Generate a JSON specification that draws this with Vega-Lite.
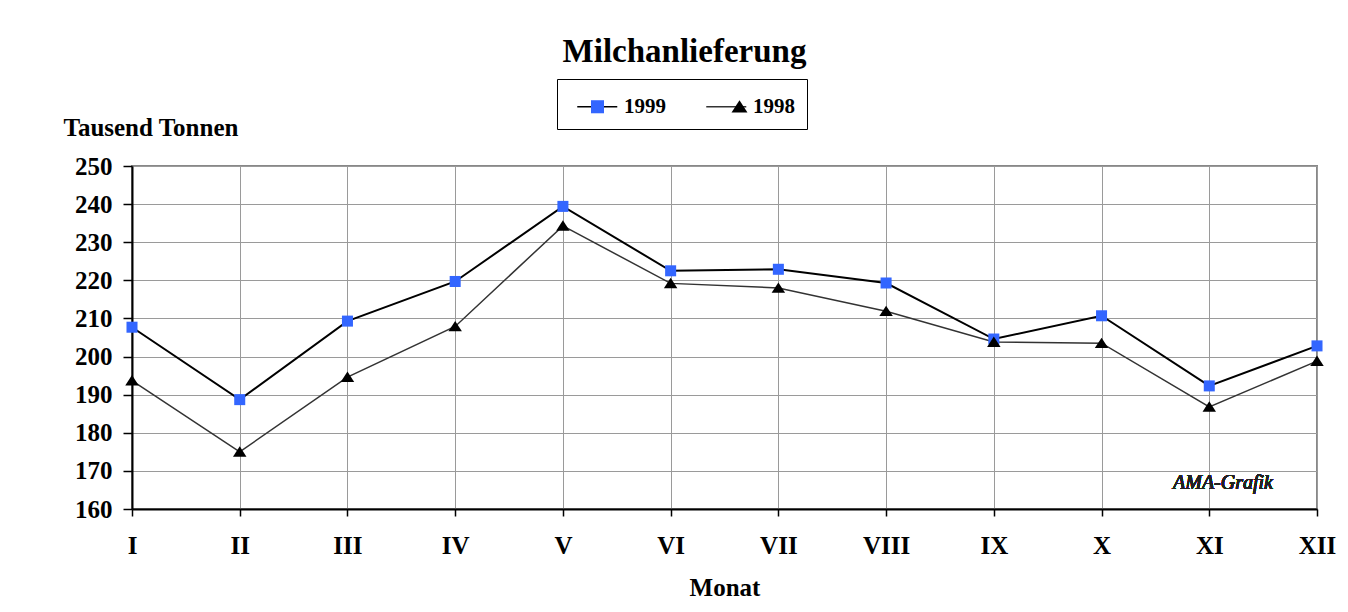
{
  "$schema": "https://vega.github.io/schema/vega-lite/v6.json",
  "width": 1185,
  "height": 343,
  "autosize": {"type": "none"},
  "padding": {"left": 132, "top": 166, "right": 31, "bottom": 103},
  "background": "white",
  "title": {
    "text": "Milchanlieferung",
    "font": "Liberation Serif",
    "fontSize": 33,
    "fontWeight": "bold",
    "color": "black",
    "anchor": "middle",
    "frame": "group",
    "dx": -40,
    "offset": -16,
    "baseline": "alphabetic"
  },
  "data": {
    "values": [
      {"Monat": "I", "Jahr": "1999", "Linie": "1999", "Wert": 207.7},
      {"Monat": "II", "Jahr": "1999", "Linie": "1999", "Wert": 188.7},
      {"Monat": "III", "Jahr": "1999", "Linie": "1999", "Wert": 209.3},
      {"Monat": "IV", "Jahr": "1999", "Linie": "1999", "Wert": 219.7},
      {"Monat": "V", "Jahr": "1999", "Linie": "1999", "Wert": 239.4},
      {"Monat": "VI", "Jahr": "1999", "Linie": "1999", "Wert": 222.5},
      {"Monat": "VII", "Jahr": "1999", "Linie": "1999", "Wert": 222.9},
      {"Monat": "VIII", "Jahr": "1999", "Linie": "1999", "Wert": 219.3},
      {"Monat": "IX", "Jahr": "1999", "Linie": "1999", "Wert": 204.6},
      {"Monat": "X", "Jahr": "1999", "Linie": "1999", "Wert": 210.7},
      {"Monat": "XI", "Jahr": "1999", "Linie": "1999", "Wert": 192.3},
      {"Monat": "XII", "Jahr": "1999", "Linie": "1999", "Wert": 202.8},
      {"Monat": "I", "Jahr": "1998", "Linie": "1998", "Wert": 193.7},
      {"Monat": "II", "Jahr": "1998", "Linie": "1998", "Wert": 175.0},
      {"Monat": "III", "Jahr": "1998", "Linie": "1998", "Wert": 194.6},
      {"Monat": "IV", "Jahr": "1998", "Linie": "1998", "Wert": 207.9},
      {"Monat": "V", "Jahr": "1998", "Linie": "1998", "Wert": 234.3},
      {"Monat": "VI", "Jahr": "1998", "Linie": "1998", "Wert": 219.2},
      {"Monat": "VII", "Jahr": "1998", "Linie": "1998", "Wert": 218.0},
      {"Monat": "VIII", "Jahr": "1998", "Linie": "1998", "Wert": 211.9},
      {"Monat": "IX", "Jahr": "1998", "Linie": "1998", "Wert": 203.8},
      {"Monat": "X", "Jahr": "1998", "Linie": "1998", "Wert": 203.5},
      {"Monat": "XI", "Jahr": "1998", "Linie": "1998", "Wert": 186.8},
      {"Monat": "XII", "Jahr": "1998", "Linie": "1998", "Wert": 198.8}
    ]
  },
  "encoding": {
    "x": {
      "field": "Monat",
      "type": "ordinal",
      "sort": ["I", "II", "III", "IV", "V", "VI", "VII", "VIII", "IX", "X", "XI", "XII"],
      "scale": {"type": "point", "padding": 0},
      "axis": {
        "title": "Monat",
        "labelAngle": 0,
        "grid": true,
        "gridColor": "#9a9a9a",
        "gridWidth": 1,
        "domainColor": "black",
        "domainWidth": 2,
        "tickColor": "black",
        "tickWidth": 1.5,
        "tickSize": 7,
        "labelPadding": 17,
        "labelFont": "Liberation Serif",
        "labelFontSize": 25,
        "labelFontWeight": "bold",
        "labelColor": "black",
        "titleFont": "Liberation Serif",
        "titleFontSize": 25,
        "titleFontWeight": "bold",
        "titleColor": "black",
        "titlePadding": 17
      }
    },
    "y": {
      "field": "Wert",
      "type": "quantitative",
      "scale": {"domain": [160, 250], "nice": false, "zero": false},
      "axis": {
        "title": "Tausend Tonnen",
        "values": [160, 170, 180, 190, 200, 210, 220, 230, 240, 250],
        "grid": true,
        "gridColor": "#9a9a9a",
        "gridWidth": 1,
        "domainColor": "black",
        "domainWidth": 2,
        "tickColor": "black",
        "tickWidth": 1.5,
        "tickSize": 9,
        "labelPadding": 11,
        "labelFont": "Liberation Serif",
        "labelFontSize": 25,
        "labelFontWeight": "bold",
        "labelColor": "black",
        "titleFont": "Liberation Serif",
        "titleFontSize": 25,
        "titleFontWeight": "bold",
        "titleColor": "black",
        "titleAngle": 0,
        "titleAlign": "left",
        "titleBaseline": "alphabetic",
        "titleX": -69,
        "titleY": -31
      }
    }
  },
  "layer": [
    {
      "mark": {"type": "line"},
      "encoding": {
        "stroke": {
          "field": "Linie",
          "type": "nominal",
          "sort": ["1999", "1998"],
          "scale": {"range": ["#000000", "#333333"]},
          "legend": {
            "title": null,
            "orient": "none",
            "legendX": 425,
            "legendY": -87,
            "direction": "horizontal",
            "symbolSize": 841,
            "labelOffset": 24,
            "columnPadding": 32,
            "padding": 12,
            "strokeColor": "black",
            "labelFont": "Liberation Serif",
            "labelFontSize": 21,
            "labelFontWeight": "bold",
            "labelColor": "black",
            "zindex": 1,
            "encode": {
              "symbols": {
                "update": {
                  "shape": {"value": "M-0.5,0H2.26"},
                  "strokeWidth": {"value": 1.5},
                  "stroke": {"value": "black"},
                  "fill": {"value": "transparent"}
                }
              }
            }
          }
        },
        "strokeWidth": {
          "field": "Linie",
          "type": "nominal",
          "sort": ["1999", "1998"],
          "scale": {"range": [2, 1.5]},
          "legend": null
        }
      }
    },
    {
      "mark": {"type": "point", "filled": true, "opacity": 1, "size": 600},
      "encoding": {
        "shape": {
          "field": "Jahr",
          "type": "nominal",
          "scale": {
            "domain": ["1999", "1998"],
            "range": ["M-0.45,-0.45H0.45V0.45H-0.45Z", "M0,-0.45L0.55,0.4H-0.55Z"]
          },
          "legend": {
            "title": null,
            "orient": "none",
            "legendX": 425,
            "legendY": -87,
            "direction": "horizontal",
            "symbolSize": 841,
            "symbolOffset": 13,
            "labelOffset": 24,
            "columnPadding": 32,
            "padding": 12,
            "labelFont": "Liberation Serif",
            "labelFontSize": 21,
            "labelFontWeight": "bold",
            "labelOpacity": 0,
            "zindex": 2
          }
        },
        "fill": {
          "field": "Jahr",
          "type": "nominal",
          "scale": {"domain": ["1999", "1998"], "range": ["#3366ff", "#000000"]},
          "legend": {
            "title": null,
            "orient": "none",
            "legendX": 425,
            "legendY": -87,
            "direction": "horizontal",
            "symbolSize": 841,
            "symbolOffset": 13,
            "labelOffset": 24,
            "columnPadding": 32,
            "padding": 12,
            "labelFont": "Liberation Serif",
            "labelFontSize": 21,
            "labelFontWeight": "bold",
            "labelOpacity": 0,
            "zindex": 2
          }
        }
      }
    },
    {
      "mark": {
        "type": "text",
        "text": "AMA-Grafik",
        "font": "Liberation Serif",
        "fontSize": 20,
        "fontStyle": "italic",
        "fontWeight": 400,
        "fill": "#222222",
        "align": "right",
        "baseline": "middle",
        "dx": -44
      },
      "encoding": {
        "x": {"datum": "XII"},
        "y": {"datum": 166.8}
      }
    }
  ],
  "config": {
    "view": {"stroke": "#888888", "strokeWidth": 2}
  }
}
